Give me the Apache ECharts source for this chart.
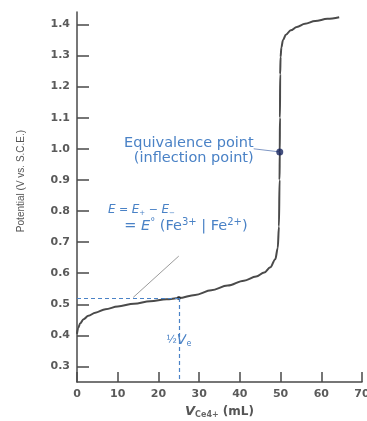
<!DOCTYPE html>
<html>
<head>
<meta charset="utf-8">
<script src="https://cdn.jsdelivr.net/npm/echarts@6.0.0/dist/echarts.min.js"></script>
<style>
  html, body { margin: 0; padding: 0; background: #fff; }
  #main { width: 367px; height: 421px; }
</style>
</head>
<body>
<div id="main"></div>
<script>
// titration curve: [mL of Ce4+, potential V]
var curve = [
    [0, 0.405], [0.3, 0.424], [0.8, 0.439], [1.6, 0.452], [2.8, 0.463],
    [4.5, 0.473], [7, 0.484], [10, 0.493], [14, 0.502], [18, 0.51],
    [22, 0.516], [25, 0.52], [29, 0.53], [33, 0.545], [37, 0.56],
    [41, 0.576], [44, 0.589], [46, 0.602], [47.5, 0.619], [48.7, 0.645],
    [49.3, 0.68], [49.6, 0.75], [49.75, 0.9], [49.8, 0.99], [49.85, 1.1],
    [49.9, 1.24], [50.0, 1.295], [50.2, 1.326], [50.6, 1.35], [51.3, 1.367],
    [52.5, 1.381], [54, 1.392], [56, 1.402], [58.5, 1.411], [61.5, 1.418],
    [64.4, 1.423]
];
var halfPoint = [25, 0.52];
var equivPoint = [49.8, 0.99];
var yTicks = [0.3, 0.4, 0.5, 0.6, 0.7, 0.8, 0.9, 1.0, 1.1, 1.2, 1.3, 1.4];
var xTicks = [0, 10, 20, 30, 40, 50, 60, 70];

// annotation anchors in data units
var equivLabelAt = [43.4, 0.995];
var equivLeader = [[43.4, 1.0], [49.8, 0.99]];
var eqLine1At = [7.6, 0.802];
var eqLine2At = [11.6, 0.752];
var halfLabelAt = [25, 0.385];
var halfLeader = [[13.8, 0.522], [25, 0.655]];

var blue = '#4a82c6';
var grey = '#4a4a4a';
var tickFont = 'DejaVu Sans';

var chart = echarts.init(document.getElementById('main'));

var option = {
    animation: false,
    grid: {
        left: 77, right: 5, top: 12, bottom: 39,
        containLabel: false,
        outerBoundsMode: 'none'
    },
    xAxis: {
        type: 'value',
        min: 0,
        max: 70,
        interval: 10,
        name: '{it|V}{sub|Ce4+} (mL)',
        nameLocation: 'middle',
        nameGap: 22,
        nameTextStyle: {
            color: '#555',
            fontFamily: tickFont,
            fontSize: 12,
            fontWeight: 'bold',
            rich: {
                it: { fontStyle: 'italic', fontSize: 13, fontWeight: 'bold', color: '#555', fontFamily: tickFont },
                sub: { fontSize: 8, fontWeight: 'bold', color: '#666', padding: [7, 0, 0, 0], fontFamily: tickFont }
            }
        },
        axisLine: { lineStyle: { color: grey, width: 1.5 } },
        axisTick: { inside: true, length: 10, lineStyle: { color: grey, width: 1.5 } },
        axisLabel: {
            margin: 7,
            color: '#5a5a5a',
            fontFamily: tickFont,
            fontSize: 11,
            fontWeight: 'bold',
            customValues: xTicks
        },
        splitLine: { show: false }
    },
    yAxis: {
        type: 'value',
        min: 0.25,
        max: 1.44,
        axisLine: { show: true, lineStyle: { color: grey, width: 1.5 } },
        axisTick: {
            show: true, inside: true, length: 12,
            lineStyle: { color: grey, width: 1.5 },
            customValues: yTicks
        },
        axisLabel: {
            margin: 7,
            color: '#5a5a5a',
            fontFamily: tickFont,
            fontSize: 11,
            fontWeight: 'bold',
            customValues: yTicks,
            formatter: function (v) { return v.toFixed(1); }
        },
        splitLine: { show: false }
    },
    series: [
        {
            name: 'curve',
            type: 'line',
            data: curve,
            showSymbol: false,
            smooth: 0.35,
            smoothMonotone: 'x',
            lineStyle: { color: grey, width: 2 },
            z: 3,
            markLine: {
                silent: true,
                symbol: 'none',
                lineStyle: { color: blue, type: [4, 3], width: 1.2 },
                label: { show: false },
                data: [
                    [{ coord: [0, halfPoint[1]] }, { coord: halfPoint }],
                    [{ coord: halfPoint }, { coord: [halfPoint[0], 0.25] }]
                ]
            }
        },
        {
            name: 'half leader',
            type: 'line',
            data: halfLeader,
            showSymbol: false,
            lineStyle: { color: '#9a9a9a', width: 1 },
            z: 2
        },
        {
            name: 'equiv leader',
            type: 'line',
            data: equivLeader,
            showSymbol: false,
            lineStyle: { color: '#7f97c4', width: 1 },
            z: 2
        },
        {
            name: 'half point',
            type: 'scatter',
            data: [halfPoint],
            symbolSize: 4,
            itemStyle: { color: '#222' },
            z: 4
        },
        {
            name: 'equivalence point',
            type: 'scatter',
            data: [equivPoint],
            symbolSize: 7,
            itemStyle: { color: '#17245e' },
            z: 5
        }
    ]
};
chart.setOption(option);

// text annotations placed from data anchors
function px(p) { return chart.convertToPixel({ gridIndex: 0 }, p); }

var p1 = px(equivLabelAt), p2 = px(eqLine1At), p3 = px(eqLine2At), p4 = px(halfLabelAt);
chart.setOption({
    graphic: [
        {
            type: 'text',
            x: 21, y: 181,
            rotation: Math.PI / 2,
            style: {
                text: 'Potential (V vs. S.C.E.)',
                fill: '#555',
                font: '10px "Liberation Sans"',
                align: 'center',
                verticalAlign: 'middle'
            }
        },
        {
            type: 'text',
            x: p1[0], y: p1[1],
            style: {
                text: 'Equivalence point\n(inflection point)',
                fill: blue,
                font: '14.5px "DejaVu Sans"',
                lineHeight: 15,
                align: 'right',
                verticalAlign: 'middle'
            }
        },
        {
            type: 'text',
            x: p2[0], y: p2[1],
            style: {
                text: '{it|E}{t| = }{it|E}{sub|+}{t| − }{it|E}{sub|−}',
                rich: {
                    it: { fontStyle: 'italic', fontSize: 12, fill: blue, fontFamily: tickFont },
                    t: { fontSize: 11, fill: blue, fontFamily: tickFont },
                    sub: { fontSize: 7, fill: blue, padding: [6, 0, 0, 0], fontFamily: tickFont }
                },
                align: 'left',
                verticalAlign: 'middle'
            }
        },
        {
            type: 'text',
            x: p3[0], y: p3[1],
            style: {
                text: '{t|= }{it|E}{sup|°}{t| (Fe}{sup|3+}{t| | Fe}{sup|2+}{t|)}',
                rich: {
                    it: { fontStyle: 'italic', fontSize: 14.5, fill: blue, fontFamily: tickFont },
                    t: { fontSize: 14.5, fill: blue, fontFamily: tickFont },
                    sup: { fontSize: 10, fill: blue, padding: [0, 0, 8, 0], fontFamily: tickFont }
                },
                align: 'left',
                verticalAlign: 'middle'
            }
        },
        {
            type: 'text',
            x: p4[0], y: p4[1],
            style: {
                text: '{f|½}{it|V}{sub|e}',
                rich: {
                    f: { fontSize: 11, fill: blue, fontFamily: tickFont, backgroundColor: '#fff' },
                    it: { fontStyle: 'italic', fontSize: 14, fill: blue, fontFamily: tickFont, backgroundColor: '#fff' },
                    sub: { fontSize: 8, fill: blue, padding: [7, 0, 0, 0], fontFamily: tickFont, backgroundColor: '#fff' }
                },
                backgroundColor: '#fff',
                align: 'center',
                verticalAlign: 'middle'
            }
        }
    ]
});
</script>
</body>
</html>
